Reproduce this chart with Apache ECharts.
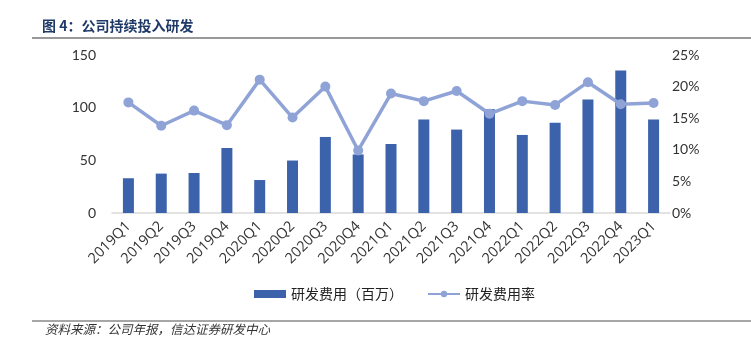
<!DOCTYPE html>
<html><head><meta charset="utf-8">
<script src="https://cdn.jsdelivr.net/npm/echarts@6/dist/echarts.min.js"></script>
<style>html,body{margin:0;padding:0;background:#fff}#c{width:751px;height:348px}</style>
</head><body><div id="c"></div>
<script>
const categories = ['2019Q1','2019Q2','2019Q3','2019Q4','2020Q1','2020Q2','2020Q3','2020Q4','2021Q1','2021Q2','2021Q3','2021Q4','2022Q1','2022Q2','2022Q3','2022Q4','2023Q1'];
const rdExpense = [33, 37.4, 38, 61.7, 31.3, 49.8, 72.2, 55.6, 65.5, 88.8, 79.2, 98.4, 74.1, 85.6, 107.7, 135.4, 88.8];
const rdRatio = [17.5, 13.8, 16.2, 13.9, 21.1, 15.1, 20.0, 9.9, 18.9, 17.7, 19.3, 15.7, 17.7, 17.1, 20.7, 17.2, 17.4];
const seriesNames = ['研发费用（百万）', '研发费用率'];
const titleText = '图 4：公司持续投入研发';
const sourceText = '资料来源：公司年报，信达证券研发中心';

const numFont = 'Lato, "Noto Sans", sans-serif';
const cjk = '"Noto Sans CJK SC", sans-serif';
const chart = echarts.init(document.getElementById('c'));
chart.setOption({
  animation: false,
  grid: {left: 112, right: 81, top: 55, bottom: 135},
  legend: {
    bottom: 42, left: 249, itemGap: 24, itemWidth: 32, itemHeight: 8,
    textStyle: {fontFamily: cjk, fontSize: 14, color: '#222'},
    data: [{name: seriesNames[0], icon: 'rect'}, {name: seriesNames[1]}]
  },
  xAxis: {
    type: 'category', data: categories,
    axisLine: {lineStyle: {color: '#d9d9d9', width: 1.5}},
    axisTick: {show: false},
    axisLabel: {rotate: 45, fontFamily: '"Open Sans", sans-serif', fontSize: 14.5, color: '#333', margin: 11, interval: 0}
  },
  yAxis: [
    {type: 'value', min: 0, max: 150, interval: 50, splitLine: {show: false},
     axisLabel: {fontFamily: numFont, fontSize: 14, color: '#333', margin: 16}},
    {type: 'value', min: 0, max: 25, interval: 5, splitLine: {show: false},
     axisLabel: {fontFamily: numFont, fontSize: 14, color: '#333', margin: 2, formatter: '{value}%'}}
  ],
  series: [
    {name: seriesNames[0], type: 'bar', data: rdExpense, barWidth: 11, itemStyle: {color: '#3B62AB'}},
    {name: seriesNames[1], type: 'line', yAxisIndex: 1, data: rdRatio, symbol: 'circle', symbolSize: 10,
     lineStyle: {color: '#8FA3D7', width: 3.5}, itemStyle: {color: '#8FA3D7'}}
  ],
  graphic: [
    {type: 'text', left: 42, top: 19, style: {text: titleText, font: 'bold 14px ' + cjk, fill: '#1F3A68'}},
    {type: 'line', shape: {x1: 32, y1: 38, x2: 751, y2: 38}, style: {stroke: '#777', lineWidth: 1.5}},
    {type: 'line', shape: {x1: 32, y1: 321, x2: 751, y2: 321}, style: {stroke: '#888', lineWidth: 1.5}},
    {type: 'text', left: 45, top: 323, style: {text: sourceText, font: 'italic 12.5px ' + cjk, fill: '#333'}}
  ]
});
</script></body></html>
